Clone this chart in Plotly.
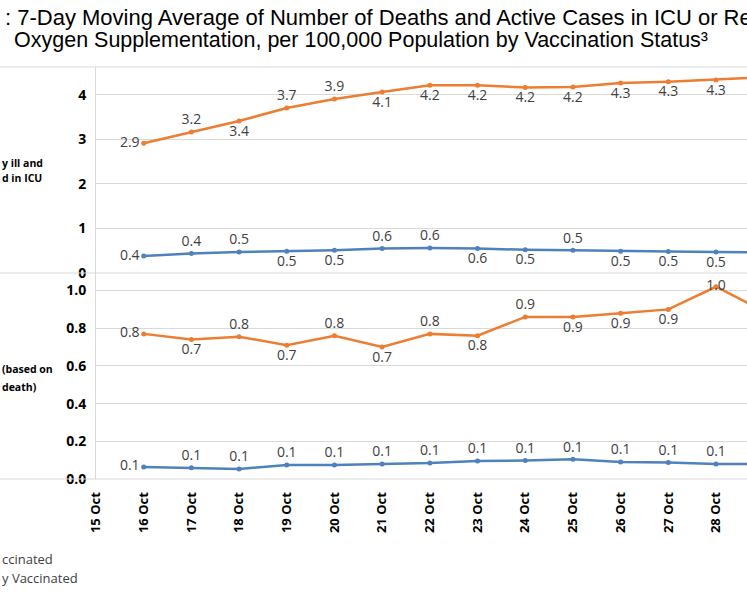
import plotly.graph_objects as go
from plotly.subplots import make_subplots

# categories (15 Oct has no data; 29 Oct runs off the right edge)
dates = ['15 Oct', '16 Oct', '17 Oct', '18 Oct', '19 Oct', '20 Oct', '21 Oct', '22 Oct',
         '23 Oct', '24 Oct', '25 Oct', '26 Oct', '27 Oct', '28 Oct', '29 Oct']

# critically ill / ICU, per 100,000
icu_unvax = [None, 2.91, 3.16, 3.41, 3.70, 3.90, 4.06, 4.21, 4.21, 4.16, 4.17, 4.26, 4.29, 4.33, 4.39]
icu_vax = [None, 0.38, 0.44, 0.47, 0.49, 0.51, 0.55, 0.56, 0.55, 0.52, 0.51, 0.49, 0.48, 0.47, 0.46]

# deceased, per 100,000
death_unvax = [None, 0.77, 0.74, 0.755, 0.71, 0.76, 0.70, 0.77, 0.76, 0.86, 0.86, 0.88, 0.90, 1.02, 0.89]
death_vax = [None, 0.064, 0.06, 0.053, 0.074, 0.074, 0.08, 0.085, 0.096, 0.098, 0.105, 0.09, 0.087, 0.08, 0.08]

ORANGE = '#ED7D31'
BLUE = '#4F81BD'
GRID = '#D9D9D9'
LBL = '#404040'

L, T, B = 'middle left', 'top center', 'bottom center'
pos_icu_unvax = [L, L, T, B, T, T, B, B, B, B, B, B, B, B, B]
pos_icu_vax = [L, L, T, T, B, B, T, T, B, B, T, B, B, B, B]
pos_death_unvax = [L, L, B, T, B, T, B, T, B, T, B, B, B, 'middle center', B]
pos_death_vax = [L, L] + [T] * 13

# last point lies past the right edge, so it gets no label
label_fmt = ['%{y:.1f}'] * (len(dates) - 1) + ['']

fig = make_subplots(rows=2, cols=1, shared_xaxes=True, vertical_spacing=0)


def add_series(y, color, positions, row):
    fig.add_trace(go.Scatter(
        x=dates, y=y,
        mode='lines+markers+text',
        line=dict(color=color, width=2.5),
        marker=dict(color=color, size=5),
        texttemplate=label_fmt,
        textposition=positions,
        textfont=dict(family='Open Sans', size=14, color=LBL),
        hoverinfo='skip',
    ), row=row, col=1)


add_series(icu_unvax, ORANGE, pos_icu_unvax, 1)
add_series(icu_vax, BLUE, pos_icu_vax, 1)
add_series(death_unvax, ORANGE, pos_death_unvax, 2)
add_series(death_vax, BLUE, pos_death_vax, 2)

tick_font = dict(family='Open Sans', size=13, color='black', weight='bold')

fig.update_xaxes(
    type='category', categoryorder='array', categoryarray=dates,
    range=[0, 13.65], showgrid=False, zeroline=False,
)
fig.update_xaxes(showticklabels=False, row=1, col=1)
fig.update_xaxes(tickangle=-90, tickfont=tick_font, ticks='outside',
                 ticklen=7, tickcolor='rgba(0,0,0,0)', row=2, col=1)

fig.update_yaxes(gridcolor=GRID, zeroline=False, showline=True, linecolor=GRID,
                 ticks='outside', ticklen=6, tickcolor='rgba(0,0,0,0)',
                 tickfont=dict(family='Open Sans', size=14, color='black', weight='bold'))
fig.update_yaxes(range=[0, 4.62], dtick=1, row=1, col=1)
fig.update_yaxes(range=[0, 1.093], dtick=0.2, tickformat='.1f', row=2, col=1)

x_left = -96 / 651.0

shapes = []
for yy in [0, 0.5, 1]:
    shapes.append(dict(type='line', xref='paper', yref='paper', x0=x_left, x1=1,
                       y0=yy, y1=yy, line=dict(color=GRID, width=1.2)))

annotations = []
# title
annotations.append(dict(xref='paper', yref='paper', x=x_left + 3 / 651.0, y=1.121,
                        xanchor='left', yanchor='middle', showarrow=False,
                        text=': 7-Day Moving Average of Number of Deaths and Active Cases in ICU or Re',
                        font=dict(family='Liberation Sans', size=22, color='black')))
annotations.append(dict(xref='paper', yref='paper', x=x_left + 12 / 651.0, y=1.0655,
                        xanchor='left', yanchor='middle', showarrow=False,
                        text='Oxygen Supplementation, per 100,000 Population by Vaccination Status³',
                        font=dict(family='Liberation Sans', size=21.5, color='black')))
# y axis titles (cut at the left edge)
for txt, yy in [('y ill and', 0.767), ('d in ICU', 0.731), ('(based on', 0.267), ('death)', 0.223)]:
    annotations.append(dict(xref='paper', yref='paper', x=x_left, y=yy,
                            xanchor='left', yanchor='middle', showarrow=False, text=txt,
                            font=dict(family='Open Sans', size=10.5, color='black', weight='bold')))
# legend (cut at the left edge)
for txt, yy in [('ccinated', -0.194), ('y Vaccinated', -0.240)]:
    annotations.append(dict(xref='paper', yref='paper', x=x_left, y=yy,
                            xanchor='left', yanchor='middle', showarrow=False, text=txt,
                            font=dict(family='Open Sans', size=13, color=LBL)))

fig.update_layout(
    width=747, height=598,
    margin=dict(l=96, r=0, t=67, b=119),
    paper_bgcolor='white', plot_bgcolor='white',
    showlegend=False,
    shapes=shapes,
    annotations=annotations,
)

fig.write_html('out.html', config={'displayModeBar': False},
               post_script="document.body.style.margin='0px';")
